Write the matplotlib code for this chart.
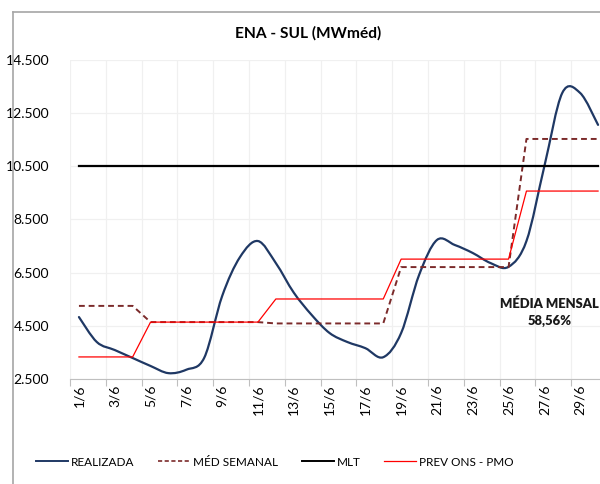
import matplotlib

matplotlib.use("Agg")
import matplotlib.pyplot as plt
import numpy as np
from matplotlib.lines import Line2D
from matplotlib.path import Path
from matplotlib.patches import PathPatch

plt.rcParams["font.family"] = ["Lato", "DejaVu Sans"]

days = list(range(1, 31))
day_labels = [f"{d}/6" for d in days]

realizada = [4830, 3890, 3590, 3290, 2990, 2720, 2850, 3300, 5620, 7090,
             7690, 6860, 5750, 4910, 4230, 3890, 3660, 3320, 4230, 6410,
             7730, 7540, 7240, 6860, 6720, 7690, 10500, 13260, 13260, 12060]
med_semanal = [5250, 5250, 5250, 5250, 4640, 4640, 4640, 4640, 4640, 4640,
               4640, 4590, 4590, 4590, 4590, 4590, 4590, 4590, 6710, 6710,
               6710, 6710, 6710, 6710, 6710, 11530, 11530, 11530, 11530, 11530]
mlt = [10500] * 30
prev_ons = [3330, 3330, 3330, 3330, 4640, 4640, 4640, 4640, 4640, 4640,
            4640, 5510, 5510, 5510, 5510, 5510, 5510, 5510, 7010, 7010,
            7010, 7010, 7010, 7010, 7010, 9570, 9570, 9570, 9570, 9570]

media_mensal = "58,56%"

C_REAL = "#1f3864"
C_SEM = "#7b2a2a"
C_PREV = "#ff0000"


def smooth_path(x, y):
    # excel-like smoothed line: cubic bezier with catmull-rom control points
    pts = np.column_stack([x, y]).astype(float)
    verts = [pts[0]]
    codes = [Path.MOVETO]
    n = len(pts)
    for i in range(n - 1):
        p0 = pts[max(i - 1, 0)]
        p1 = pts[i]
        p2 = pts[i + 1]
        p3 = pts[min(i + 2, n - 1)]
        c1 = p1 + (p2 - p0) / 6.0
        c2 = p2 - (p3 - p1) / 6.0
        verts.extend([c1, c2, p2])
        codes.extend([Path.CURVE4] * 3)
    return Path(verts, codes)


fig = plt.figure(figsize=(6.0, 4.84), dpi=100)
ax = fig.add_axes([70 / 600, 105 / 484, 537 / 600, 319 / 484])

ax.add_patch(PathPatch(smooth_path(days, realizada), fill=False,
                       edgecolor=C_REAL, lw=1.6, capstyle="round"))
ax.plot(days, med_semanal, color=C_SEM, lw=1.4, ls=(0, (3, 2)))
ax.plot(days, mlt, color="black", lw=1.6)
ax.plot(days, prev_ons, color=C_PREV, lw=0.9)

ax.set_xlim(0.5, 30.5)
ax.set_ylim(2500, 14500)
ax.set_yticks(np.arange(2500, 14501, 2000))
ax.set_yticklabels([f"{v:,}".replace(",", ".") for v in range(2500, 14501, 2000)])

ax.set_xticks(np.arange(0.5, 31, 2))
ax.set_xticklabels([])
ax.set_xticks(days[::2], minor=True)
ax.set_xticklabels(day_labels[::2], minor=True, rotation=90, fontsize=10)

ax.tick_params(axis="x", which="major", length=5, color="#bfbfbf", width=0.8)
ax.tick_params(axis="x", which="minor", length=0, pad=4)
ax.tick_params(axis="y", length=0, pad=15, labelsize=10)

ax.grid(True, which="major", color="#f0f0f0", lw=0.9)
ax.set_axisbelow(True)
for side in ["left", "right", "top"]:
    ax.spines[side].set_visible(False)
ax.spines["bottom"].set_color("#bfbfbf")

ax.text(27.3, 5020, f"MÉDIA MENSAL\n{media_mensal}", ha="center", va="center",
        fontsize=9.4, fontweight="heavy", linespacing=1.5, color="#1a1a1a")

fig.text(308 / 600, 1 - 33 / 484, "ENA - SUL (MWméd)", ha="center", va="center",
         fontsize=11.2, fontweight="bold")

handles = [
    Line2D([], [], color=C_REAL, lw=1.4),
    Line2D([], [], color=C_SEM, lw=1.2, ls=(0, (2.5, 1.5))),
    Line2D([], [], color="black", lw=1.4),
    Line2D([], [], color=C_PREV, lw=0.9),
]
fig.legend(handles, ["REALIZADA", "MÉD SEMANAL", "MLT", "PREV ONS - PMO"],
           loc="center", bbox_to_anchor=(275 / 600, 22 / 484), ncol=4,
           frameon=False, fontsize=8.5, handlelength=2.7, handletextpad=0.25,
           columnspacing=2.0)

# chart area border (left and top visible)
fig.add_artist(Line2D([13 / 600, 13 / 600], [0, 1 - 12 / 484], color="#a6a6a6", lw=1.2))
fig.add_artist(Line2D([13 / 600, 1], [1 - 12 / 484, 1 - 12 / 484], color="#a6a6a6", lw=1.2))

fig.savefig("out.png", dpi=100)
